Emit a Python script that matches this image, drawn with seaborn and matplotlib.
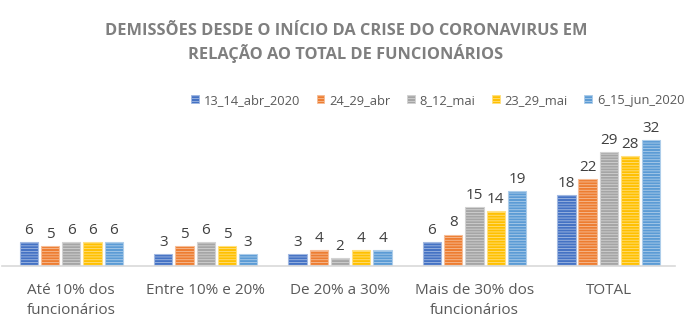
import matplotlib
matplotlib.use("Agg")
import matplotlib.pyplot as plt
import seaborn as sns
import pandas as pd
import matplotlib.colors as mcolors

categories = ["Até 10% dos\nfuncionários", "Entre 10% e 20%", "De 20% a 30%",
              "Mais de 30% dos\nfuncionários", "TOTAL"]
series = ["13_14_abr_2020", "24_29_abr", "8_12_mai", "23_29_mai", "6_15_jun_2020"]
s1 = [6, 3, 3, 6, 18]
s2 = [5, 5, 4, 8, 22]
s3 = [6, 6, 2, 15, 29]
s4 = [6, 5, 4, 14, 28]
s5 = [6, 3, 4, 19, 32]
colors = ["#4472C4", "#ED7D31", "#A5A5A5", "#FFC000", "#5B9BD5"]

rows = []
for name, vals in zip(series, [s1, s2, s3, s4, s5]):
    for c, v in zip(categories, vals):
        rows.append({"cat": c, "serie": name, "val": v})
df = pd.DataFrame(rows)

sns.set_theme(style="white")
plt.rcParams['font.family'] = ['Open Sans', 'DejaVu Sans']
plt.rcParams['hatch.linewidth'] = 0.6

fig = plt.figure(figsize=(6.92, 3.31), dpi=100)
ax = fig.add_axes([0.003, 0.196, 0.972, 0.476])
sns.barplot(data=df, x="cat", y="val", hue="serie", palette=colors,
            width=0.79, gap=0.14, ax=ax, legend=False, saturation=1)

def tint(c, f):
    r, g, b = mcolors.to_rgb(c)
    return (r + (1 - r) * f, g + (1 - g) * f, b + (1 - b) * f)

for i, cont in enumerate(ax.containers):
    col = colors[i]
    for p in cont:
        p.set_hatch("------")
        p.set_edgecolor(tint(col, 0.5))
        p.set_linewidth(0.8)
    ax.bar_label(cont, padding=3, fontsize=11, color="#404040")

ax.set_ylim(0, 40)
ax.set_xlim(-0.515, 4.49)
ax.set_xlabel("")
ax.set_ylabel("")
ax.set_yticks([])
for s in ["top", "left", "right"]:
    ax.spines[s].set_visible(False)
ax.spines["bottom"].set_color("#D9D9D9")
ax.spines["bottom"].set_linewidth(1.2)
ax.tick_params(axis="x", length=0, pad=12, labelsize=11, labelcolor="#595959")
for lbl in ax.get_xticklabels():
    lbl.set_linespacing(1.5)

from matplotlib.patches import Patch
handles = [Patch(facecolor=c, edgecolor=tint(c, 0.5), hatch="------", linewidth=0.6) for c in colors]
fig.legend(handles, series, loc="center right", bbox_to_anchor=(1.006, 0.697),
           ncol=5, frameon=False, fontsize=9.3, handlelength=0.6, handleheight=0.6,
           handletextpad=0.4, columnspacing=1.25, labelcolor="#595959")

fig.text(0.5, 0.87, "DEMISSÕES DESDE O INÍCIO DA CRISE DO CORONAVIRUS EM\nRELAÇÃO AO TOTAL DE FUNCIONÁRIOS",
         ha="center", va="center", fontsize=11.8, fontweight="bold", color="#7F7F7F",
         linespacing=1.3)

fig.savefig("out.png", dpi=100)
